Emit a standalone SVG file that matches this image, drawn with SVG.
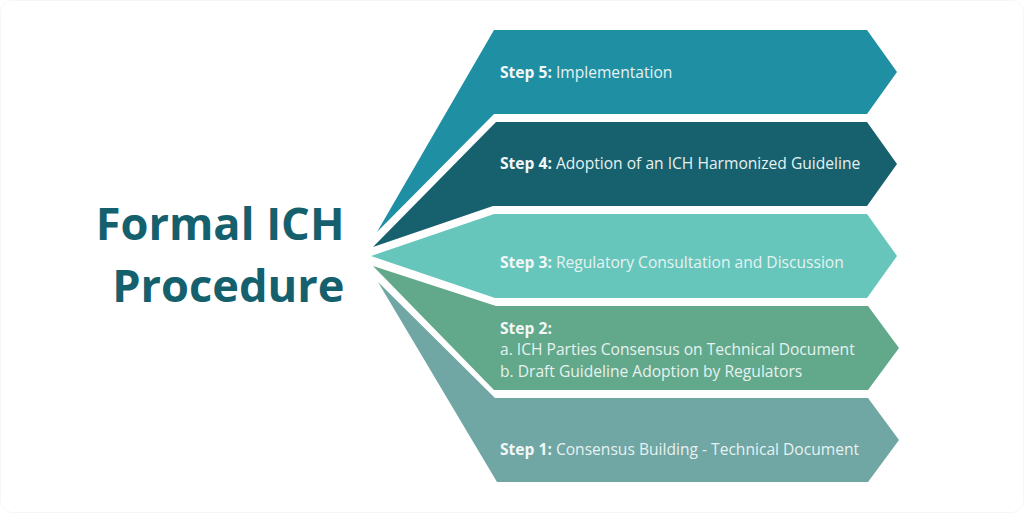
<svg xmlns="http://www.w3.org/2000/svg" width="1024" height="513" viewBox="0 0 1024 513">
<style>
text{font-family:"Open Sans","Noto Sans","DejaVu Sans",sans-serif}
.l{font-size:15.6px;fill:#e6f2f1}
.l tspan.b{font-weight:700;fill:#f2f8f7}
.t{font-size:45.2px;font-weight:700;fill:#15606d;text-anchor:end}
</style>
<rect x="0.5" y="0.5" width="1023" height="512" rx="12" fill="#fff" stroke="#f6f6f6"/>
<g id="title"><text class="t" x="344.5" y="239.5">Formal ICH</text><text class="t" x="344.5" y="301.5">Procedure</text></g>
<g id="step5"><polygon points="377,232 494,30 867,30 897,72 867,114 494,114" fill="#1f8fa3"/><text class="l" x="500" y="78"><tspan class="b">Step 5:</tspan> Implementation</text></g>
<g id="step4"><polygon points="373,247 496,122 867,122 897,164 867,206 493,206" fill="#17616e"/><text class="l" x="500" y="169"><tspan class="b">Step 4:</tspan> Adoption of an ICH Harmonized Guideline</text></g>
<g id="step3"><polygon points="371,256 494,214 867,214 897,256 867,298 495,298" fill="#66c6bc"/><text class="l" x="500" y="268"><tspan class="b">Step 3:</tspan> Regulatory Consultation and Discussion</text></g>
<g id="step2"><polygon points="373,266 496,306 868,306 899,348 868,390 494,390" fill="#62a88a"/><text class="l" x="500" y="334"><tspan class="b">Step 2:</tspan></text><text class="l" x="500" y="355">a. ICH Parties Consensus on Technical Document</text><text class="l" x="500" y="377">b. Draft Guideline Adoption by Regulators</text></g>
<g id="step1"><polygon points="378,282 495,398 868,398 899,440 868,482 497,482" fill="#70a6a3"/><text class="l" x="500" y="455"><tspan class="b">Step 1:</tspan> Consensus Building - Technical Document</text></g>
<g id="connectors"></g>
</svg>
